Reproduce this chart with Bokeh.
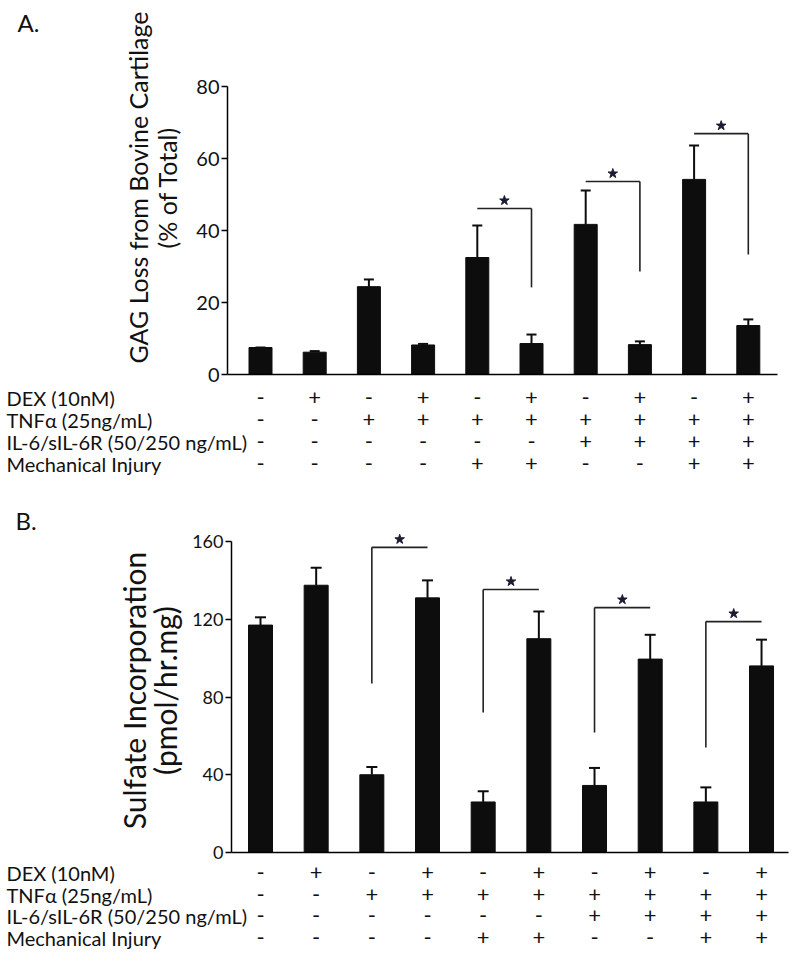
import math
from bokeh.plotting import figure
from bokeh.models import (Range1d, Whisker, TeeHead, ColumnDataSource, Label,
                          FixedTicker)
from bokeh.layouts import column
from bokeh.embed import file_html
from bokeh.resources import INLINE
from bokeh.core.properties import value

# ---------------- data ----------------
conditions = [1, 2, 3, 4, 5, 6, 7, 8, 9, 10]
row_labels = ["DEX (10nM)", "TNFα (25ng/mL)", "IL-6/sIL-6R (50/250 ng/mL)", "Mechanical Injury"]
dex  = ["-", "+", "-", "+", "-", "+", "-", "+", "-", "+"]
tnf  = ["-", "-", "+", "+", "+", "+", "+", "+", "+", "+"]
il6  = ["-", "-", "-", "-", "-", "-", "+", "+", "+", "+"]
mech = ["-", "-", "-", "-", "+", "+", "-", "-", "+", "+"]

gag_mean = [7.5, 6.2, 24.4, 8.2, 32.5, 8.6, 41.7, 8.3, 54.2, 13.6]
gag_err  = [0.0, 0.3, 2.0, 0.3, 8.9, 2.5, 9.4, 0.9, 9.4, 1.7]
gag_ticks = [0, 20, 40, 60, 80]
gag_sig_pairs = [(5, 6), (7, 8), (9, 10)]
gag_sig_top = [46.1, 53.6, 66.9]
gag_sig_low = [24.2, 28.6, 33.3]

sulf_mean = [117, 137.5, 40, 131, 26, 110, 34.5, 99.5, 26, 96]
sulf_err  = [4, 9, 4, 9, 5.5, 14, 9, 12.5, 7.5, 13.5]
sulf_ticks = [0, 40, 80, 120, 160]
sulf_sig_pairs = [(3, 4), (5, 6), (7, 8), (9, 10)]
sulf_sig_top = [157, 135.3, 126, 118.8]
sulf_sig_low = [87, 72, 61.7, 54]

FONT = "Lato"
BAR = "#0d0d0d"
INK = "#111111"
W = 800
ORIGIN_X = 0


def make_panel(cfg, letter, title1, title2, means, errs, ticks, ymax, pairs, tops, lows,
               drop_side):
    top_pg = cfg["canvas_top"]
    H = cfg["height"]
    ax_x = cfg["axis_x"]
    ax_end = cfg["axis_end"]
    x0_pg = cfg["x1_px"]
    step = cfg["step"]
    y0_pg = cfg["y0_px"]
    ytop_pg = cfg["ytop_px"]
    ppu = (y0_pg - ytop_pg) / ymax

    def dx(px):
        return 1 + (px - x0_pg) / step

    def dy(py):
        return (y0_pg - py) / ppu

    p = figure(width=W, height=H, output_backend="svg", toolbar_location=None,
               x_range=Range1d(dx(ORIGIN_X), dx(ORIGIN_X + W)),
               y_range=Range1d(dy(top_pg + H), dy(top_pg)),
               min_border=0)
    p.outline_line_color = None
    p.grid.visible = False
    p.background_fill_color = "white"
    p.border_fill_color = "white"

    src = ColumnDataSource(dict(x=conditions, top=means,
                                upper=[m + e for m, e in zip(means, errs)]))
    p.vbar(x="x", top="top", bottom=0, width=cfg["bar_w"] / step, source=src,
           fill_color=BAR, line_color=BAR)
    p.add_layout(Whisker(source=src, base="x", lower="top", upper="upper",
                         line_width=2, line_color=BAR,
                         upper_head=TeeHead(size=cfg["cap"], line_width=2, line_color=BAR),
                         lower_head=None))

    # significance brackets
    xs0, ys0, xs1, ys1, sx, sy = [], [], [], [], [], []
    off = cfg["star_px"] / ppu
    for (a, b), t, lo in zip(pairs, tops, lows):
        xs0.append(a); ys0.append(t); xs1.append(b); ys1.append(t)
        d = b if drop_side == "right" else a
        xs0.append(d); ys0.append(t); xs1.append(d); ys1.append(lo)
        sx.append((a + b) / 2); sy.append(t + off)
    p.segment(x0=xs0, y0=ys0, x1=xs1, y1=ys1, line_color="#222222", line_width=1.6)
    p.scatter(x=sx, y=sy, marker="star", size=10, fill_color="#1b1b33",
              line_color="#1b1b33")

    # axes (fixed inside the full-canvas frame)
    p.yaxis.fixed_location = dx(ax_x)
    p.yaxis.bounds = (0, ymax)
    p.yaxis.ticker = FixedTicker(ticks=ticks)
    p.yaxis.minor_tick_line_color = None
    p.yaxis.major_tick_in = 0
    p.yaxis.major_tick_out = 6
    p.yaxis.major_tick_line_width = 1.5
    p.yaxis.axis_line_width = 1.5
    p.yaxis.major_label_standoff = 2
    p.yaxis.major_label_text_font = FONT
    p.yaxis.major_label_text_font_size = cfg["tick_font"]
    p.yaxis.major_label_text_color = INK
    p.xaxis.fixed_location = 0
    p.xaxis.bounds = (dx(ax_x), dx(ax_end))
    p.xaxis.ticker = FixedTicker(ticks=[])
    p.xaxis.minor_tick_line_color = None
    p.xaxis.major_tick_line_color = None
    p.xaxis.axis_line_width = 1.5

    # y-axis titles
    for txt, xx in ((title1, cfg["title_x1"]), (title2, cfg["title_x2"])):
        p.add_layout(Label(x=dx(xx), y=dy(cfg["title_y"]), text=txt, angle=math.pi / 2,
                           text_align="center", text_baseline="middle", text_font=FONT,
                           text_font_size=cfg["title_font"], text_color=INK))
    p.add_layout(Label(x=dx(cfg["letter_x"]), y=dy(cfg["letter_y"]), text=letter,
                       text_align="left", text_baseline="middle", text_font=FONT,
                       text_font_size="24px", text_color=INK))

    # condition table
    tx, ty, tt = [], [], []
    for ry, signs in zip(cfg["rows"], (dex, tnf, il6, mech)):
        tx += conditions
        ty += [dy(ry)] * len(conditions)
        tt += signs
    tsrc = ColumnDataSource(dict(x=tx, y=ty, t=tt))
    p.text(x="x", y="y", text="t", source=tsrc, text_align="center",
           text_baseline="middle", text_font=value(FONT), text_font_size="22px",
           text_color=INK)
    for lab, ry in zip(row_labels, cfg["rows"]):
        p.add_layout(Label(x=dx(cfg["row_label_x"]), y=dy(ry), text=lab,
                           text_align="left", text_baseline="middle", text_font=FONT,
                           text_font_size="20px", text_color=INK))
    return p


cfgA = dict(canvas_top=0, height=488, axis_x=227, axis_end=777, x1_px=260, step=54.2,
            y0_px=374, ytop_px=86, bar_w=23, cap=10, star_px=8, tick_font="20px",
            title_font="25px", title_x1=137, title_x2=166, title_y=187,
            letter_x=17, letter_y=22, rows=[397, 419, 441, 463], row_label_x=6)
cfgB = dict(canvas_top=488, height=474, axis_x=231, axis_end=788, x1_px=260, step=55.67,
            y0_px=852, ytop_px=541, bar_w=24, cap=11, star_px=8, tick_font="18px",
            title_font="30px", title_x1=133, title_x2=164, title_y=690,
            letter_x=15, letter_y=520, rows=[872, 894, 915, 937], row_label_x=6)

pA = make_panel(cfgA, "A.", "GAG Loss from Bovine Cartilage", "(% of Total)",
                gag_mean, gag_err, gag_ticks, 80, gag_sig_pairs, gag_sig_top, gag_sig_low,
                "right")
pB = make_panel(cfgB, "B.", "Sulfate Incorporation", "(pmol/hr.mg)",
                sulf_mean, sulf_err, sulf_ticks, 160, sulf_sig_pairs, sulf_sig_top,
                sulf_sig_low, "left")

layout = column(pA, pB, spacing=0)
open("out.html", "w").write(file_html(layout, INLINE))
